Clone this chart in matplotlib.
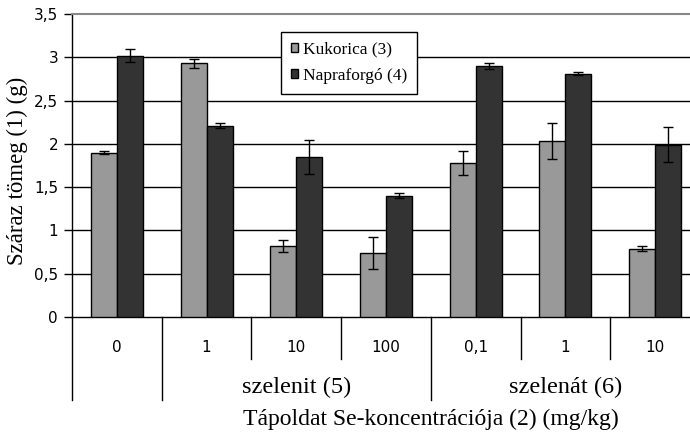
import matplotlib
matplotlib.use("Agg")
import matplotlib.pyplot as plt
import matplotlib.transforms as mtransforms
import numpy as np

categories = ["0", "1", "10", "100", "0,1", "1", "10"]
groups = ["szelenit (5)", "szelenát (6)"]
kukorica = [1.90, 2.93, 0.82, 0.74, 1.78, 2.03, 0.79]
kukorica_err = [0.02, 0.05, 0.07, 0.18, 0.14, 0.21, 0.03]
napraforgo = [3.02, 2.21, 1.85, 1.40, 2.90, 2.81, 1.99]
napraforgo_err = [0.07, 0.03, 0.20, 0.03, 0.03, 0.02, 0.20]
yticks = [0, 0.5, 1, 1.5, 2, 2.5, 3, 3.5]
ytick_labels = ["0", "0,5", "1", "1,5", "2", "2,5", "3", "3,5"]

W, H = 690, 434
fig = plt.figure(figsize=(W / 100, H / 100), dpi=100)
left, right, top, bottom = 72, 700, 14, 317
ax = fig.add_axes([left / W, 1 - bottom / H, (right - left) / W, (bottom - top) / H])

serif = ["Liberation Serif", "DejaVu Serif"]
x = np.arange(len(categories))
bw = 0.29
ax.bar(x - bw / 2, kukorica, bw, color="#999999", edgecolor="black", linewidth=1,
       label="Kukorica (3)", zorder=3)
ax.bar(x + bw / 2, napraforgo, bw, color="#333333", edgecolor="black", linewidth=1,
       label="Napraforgó (4)", zorder=3)
ax.errorbar(x - bw / 2, kukorica, yerr=kukorica_err, fmt="none", ecolor="black",
            elinewidth=1, capsize=3.3, capthick=1, zorder=4)
ax.errorbar(x + bw / 2, napraforgo, yerr=napraforgo_err, fmt="none", ecolor="black",
            elinewidth=1, capsize=3.3, capthick=1, zorder=4)

ax.set_xlim(-0.5, len(categories) - 0.5)
ax.set_ylim(0, 3.5)
ax.set_yticks(yticks)
ax.set_yticklabels(ytick_labels, fontsize=11, family="DejaVu Sans")
ax.tick_params(axis="y", direction="out", length=6, width=1, pad=4)
for yv in yticks[1:-1]:
    ax.axhline(yv, color="black", linewidth=1, zorder=1)
ax.spines["top"].set_color("#888888")
ax.spines["top"].set_linewidth(1.5)
ax.spines["right"].set_visible(False)
ax.spines["left"].set_linewidth(1)
ax.spines["bottom"].set_linewidth(1)
ax.set_xticks([])

trans = mtransforms.blended_transform_factory(ax.transData, ax.transAxes)
ph = bottom - top
short = -42 / ph
long_ = -83 / ph
long_bounds = [-0.5, 0.5, 3.5]
for b in np.arange(-0.5, len(categories) - 0.5, 1.0):
    y2 = long_ if b in long_bounds else short
    ax.plot([b, b], [0, y2], color="black", linewidth=1, transform=trans, clip_on=False)
for i, c in enumerate(categories):
    ax.text(i, -30 / ph, c, transform=trans, ha="center", va="center",
            fontsize=11, family="DejaVu Sans")
ax.text(2.0, -70 / ph, groups[0], transform=trans, ha="center", va="center",
        fontsize=17.5, family=serif)
ax.text(5.0, -70 / ph, groups[1], transform=trans, ha="center", va="center",
        fontsize=17.5, family=serif)
fig.text(431 / W, 1 - 419 / H, "Tápoldat Se-koncentrációja (2) (mg/kg)", ha="center",
         va="center", fontsize=17, family=serif)
fig.text(17 / W, 1 - 171 / H, "Száraz tömeg (1) (g)", rotation=90, ha="center",
         va="center", fontsize=16.5, family=serif)

leg = ax.legend(loc="upper left", bbox_to_anchor=((281 - left) / (right - left), 1 - (32 - top) / ph),
                frameon=True, fancybox=False, edgecolor="black", framealpha=1,
                prop={"family": serif, "size": 12.5}, handlelength=0.45, handleheight=0.45,
                borderpad=0.55, labelspacing=0.6, handletextpad=0.25, borderaxespad=0)
leg.get_frame().set_linewidth(1)
leg.set_zorder(5)

fig.savefig("out.png", dpi=100)
